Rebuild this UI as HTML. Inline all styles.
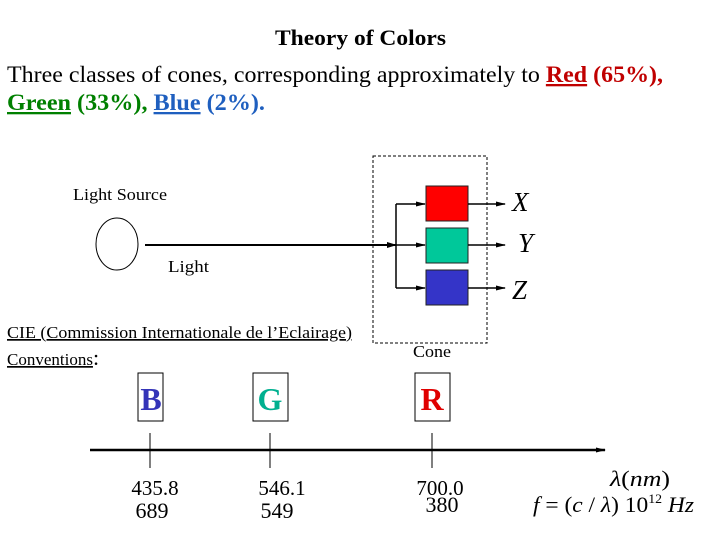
<!DOCTYPE html>
<html><head><meta charset="utf-8"><style>
body{margin:0;background:#fff}
svg{display:block;font-family:"Liberation Serif",serif}
</style></head><body>
<svg width="720" height="540" viewBox="0 0 720 540">
<defs>
<marker id="ar" markerUnits="userSpaceOnUse" markerWidth="10" markerHeight="8" refX="9" refY="4" orient="auto"><path d="M0,1 L10,4 L0,7 z" fill="#000"/></marker>
<marker id="ar2" markerUnits="userSpaceOnUse" markerWidth="16" markerHeight="10" refX="15" refY="5" orient="auto"><path d="M0,0 L16,5 L0,10 z" fill="#000"/></marker>
<marker id="ar3" markerUnits="userSpaceOnUse" markerWidth="10" markerHeight="8" refX="9" refY="4" orient="auto"><path d="M0,1.5 L10,4 L0,6.5 z" fill="#000"/></marker>
</defs>
<text x="275" y="45" font-size="22" font-weight="bold" textLength="171" lengthAdjust="spacingAndGlyphs">Theory of Colors</text>
<text x="7" y="82" font-size="23" textLength="656" lengthAdjust="spacingAndGlyphs">Three classes of cones, corresponding approximately to <tspan fill="#c00000" font-weight="bold" text-decoration="underline">Red</tspan><tspan fill="#c00000" font-weight="bold"> (65%),</tspan></text>
<text x="7" y="110" font-size="23" font-weight="bold" textLength="258" lengthAdjust="spacingAndGlyphs"><tspan fill="#008000" text-decoration="underline">Green</tspan><tspan fill="#008000"> (33%), </tspan><tspan fill="#1f5fbf" text-decoration="underline">Blue</tspan><tspan fill="#1f5fbf"> (2%).</tspan></text>
<text x="73" y="200" font-size="17" textLength="94" lengthAdjust="spacingAndGlyphs">Light Source</text>
<ellipse cx="117" cy="244" rx="21" ry="26" fill="none" stroke="#000"/>
<text x="168" y="272" font-size="17" textLength="41" lengthAdjust="spacingAndGlyphs">Light</text>
<line x1="145" y1="245" x2="396" y2="245" stroke="#000" stroke-width="2" marker-end="url(#ar)"/>
<rect x="373" y="156" width="114" height="187" fill="none" stroke="#000" stroke-dasharray="3,2"/>
<line x1="396" y1="204" x2="396" y2="288" stroke="#000" stroke-width="1.5"/>
<line x1="396" y1="204" x2="425" y2="204" stroke="#000" stroke-width="1.5" marker-end="url(#ar3)"/>
<line x1="396" y1="245" x2="425" y2="245" stroke="#000" stroke-width="1.5" marker-end="url(#ar3)"/>
<line x1="396" y1="288" x2="425" y2="288" stroke="#000" stroke-width="1.5" marker-end="url(#ar3)"/>
<rect x="426" y="186" width="42" height="35" fill="#ff0000" stroke="#222"/>
<rect x="426" y="228" width="42" height="35" fill="#00c89a" stroke="#222"/>
<rect x="426" y="270" width="42" height="35" fill="#3434c8" stroke="#222"/>
<line x1="468" y1="204" x2="505" y2="204" stroke="#000" stroke-width="1.5" marker-end="url(#ar3)"/>
<line x1="468" y1="245" x2="505" y2="245" stroke="#000" stroke-width="1.5" marker-end="url(#ar3)"/>
<line x1="468" y1="288" x2="505" y2="288" stroke="#000" stroke-width="1.5" marker-end="url(#ar3)"/>
<text x="512" y="211" font-size="27" font-style="italic">X</text>
<text x="518" y="252" font-size="27" font-style="italic">Y</text>
<text x="512" y="299" font-size="27" font-style="italic">Z</text>
<text x="413" y="357" font-size="17" textLength="38" lengthAdjust="spacingAndGlyphs">Cone</text>
<text x="7" y="338" font-size="17" text-decoration="underline" textLength="345" lengthAdjust="spacingAndGlyphs">CIE (Commission Internationale de l’Eclairage)</text>
<text x="7" y="365" font-size="17"><tspan text-decoration="underline">Conventions</tspan><tspan font-size="22">:</tspan></text>
<line x1="90" y1="450" x2="605" y2="450" stroke="#000" stroke-width="2.5" marker-end="url(#ar3)"/>
<g>
<rect x="138" y="373" width="25" height="48" fill="none" stroke="#000"/>
<text x="151" y="410" font-size="32" font-weight="bold" fill="#3434b8" text-anchor="middle">B</text>
<line x1="150" y1="433" x2="150" y2="468" stroke="#000"/>
<text x="155" y="495" font-size="21" text-anchor="middle">435.8</text>
<text x="152" y="518" font-size="22" text-anchor="middle">689</text></g>
<g>
<rect x="253" y="373" width="35" height="48" fill="none" stroke="#000"/>
<text x="270" y="410" font-size="32" font-weight="bold" fill="#00b090" text-anchor="middle">G</text>
<line x1="270" y1="433" x2="270" y2="468" stroke="#000"/>
<text x="282" y="495" font-size="21" text-anchor="middle">546.1</text>
<text x="277" y="518" font-size="22" text-anchor="middle">549</text></g>
<g>
<rect x="415" y="373" width="35" height="48" fill="none" stroke="#000"/>
<text x="432" y="410" font-size="32" font-weight="bold" fill="#e00000" text-anchor="middle">R</text>
<line x1="432" y1="433" x2="432" y2="468" stroke="#000"/>
<text x="440" y="495" font-size="21" text-anchor="middle">700.0</text>
<text x="442" y="512" font-size="22" text-anchor="middle">380</text></g>
<text x="610" y="486" font-size="22" textLength="60" lengthAdjust="spacingAndGlyphs"><tspan font-style="italic">λ</tspan>(<tspan font-style="italic">nm</tspan>)</text>
<text x="533" y="512" font-size="22" textLength="161" lengthAdjust="spacingAndGlyphs"><tspan font-style="italic">f</tspan> = (<tspan font-style="italic">c</tspan> / <tspan font-style="italic">λ</tspan>) 10<tspan font-size="13" dy="-9">12</tspan><tspan dy="9" font-style="italic"> Hz</tspan></text>
</svg>
</body></html>
